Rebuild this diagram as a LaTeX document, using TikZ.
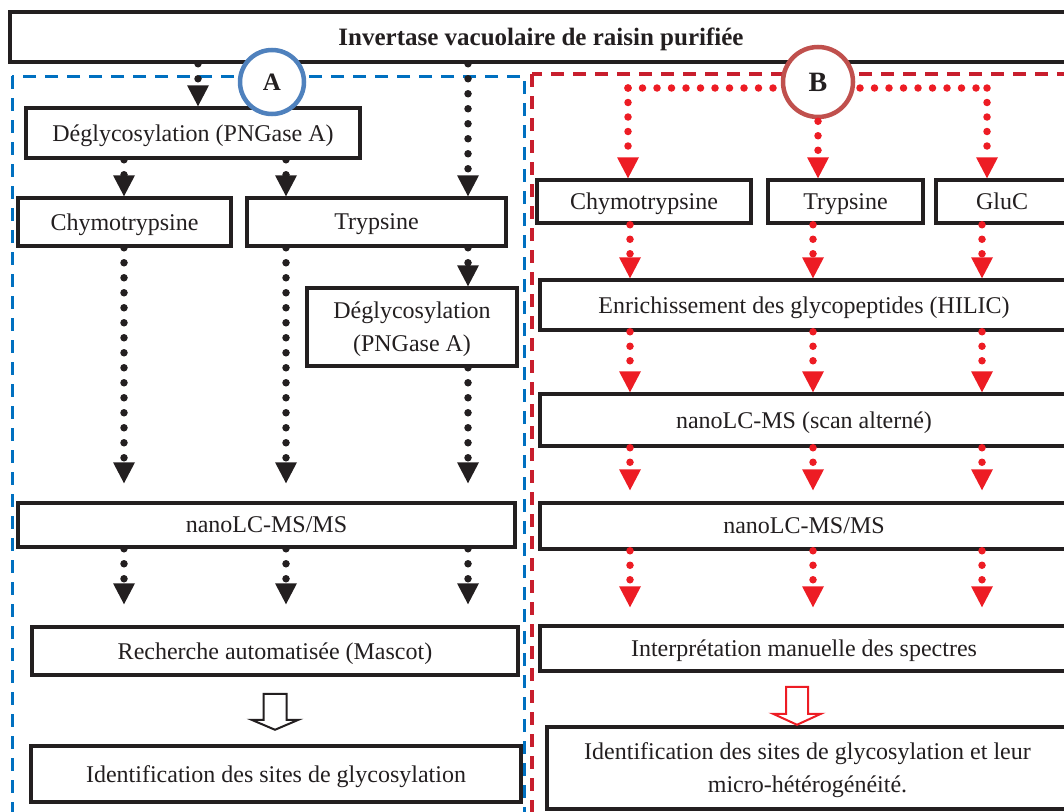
\documentclass[tikz,border=0pt]{standalone}
\usepackage{fontspec}
\setmainfont{Liberation Serif}
\usetikzlibrary{
	arrows.meta,
	calc
}

\definecolor{noir}{RGB}{35,31,32}
\definecolor{bleuA}{RGB}{0,112,192}
\definecolor{rougeB}{RGB}{200,30,45}
\definecolor{cercleA}{RGB}{79,129,189}
\definecolor{cercleB}{RGB}{192,80,77}
\definecolor{rougeF}{RGB}{237,28,36}

\begin{document}
\begin{tikzpicture}[
	x=1pt, y=-1pt,
	etape/.style={
		rectangle,
		draw=noir,
		line width=3.5pt,
		fill=white,
		text=noir,
		align=center,
		inner sep=0pt,
		text depth=0pt,
		font=\fontsize{24}{33}\selectfont
	},
	entete/.style={etape, font=\bfseries\fontsize{25}{30}\selectfont},
	cercle/.style={circle, fill=white, line width=4.5pt, text=noir, inner sep=0pt},
	cadre/.style={line width=3pt, dash pattern=on 13pt off 9pt},
	ligneA/.style={draw=noir, line width=7.5pt, line cap=round, dash pattern=on 0pt off 15pt},
	pointA/.style={ligneA, -{Triangle[width=22pt, length=21pt, line width=0pt]}},
	ligneB/.style={draw=rougeF, line width=7.5pt, line cap=round, dash pattern=on 0pt off 14.5pt},
	pointB/.style={ligneB, -{Triangle[width=22pt, length=21pt, line width=0pt]}},
	creux/.style={line width=2pt, fill=white, line join=miter}
]

\useasboundingbox (0,0) rectangle (1064,811);
\clip (0,0) rectangle (1064,811);

% Cadres des deux voies
\draw[cadre, draw=bleuA] (12,76) rectangle (524,830);
\draw[cadre, draw=rougeB, line width=3.5pt] (532,74) rectangle (1090,830);

\node[entete, minimum width=1062pt, minimum height=50pt] (haut) at (541,37) {Invertase vacuolaire de raisin purifiée};

% Voie A
\node[etape, minimum width=334pt, minimum height=50pt] (deglyA) at (193,133) {Déglycosylation (PNGase A)};
\node[etape, minimum width=213pt, minimum height=48pt] (chymoA) at (124.5,222) {Chymotrypsine};
\node[etape, minimum width=259pt, minimum height=48pt] (trypA) at (376.5,222) {Trypsine};
\node[etape, minimum width=210pt, minimum height=78pt] (deglyT) at (412,327) {Déglycosylation\\(PNGase A)};
\node[etape, minimum width=497pt, minimum height=44pt] (msA) at (266.5,525) {nanoLC-MS/MS};
\node[etape, minimum width=486pt, minimum height=48pt] (mascot) at (275,651) {Recherche automatisée (Mascot)};
\node[etape, minimum width=490pt, minimum height=56pt] (idA) at (276,774) {Identification des sites de glycosylation};

\coordinate (a0) at (198,0);
\coordinate (a1) at (124,0);
\coordinate (a2) at (286,0);
\coordinate (a3) at (468,0);

\draw[pointA] (haut.south -| a0) -- (deglyA.north -| a0);
\draw[pointA] (haut.south -| a3) -- (trypA.north -| a3);
\draw[pointA] (deglyA.south -| a1) -- (chymoA.north -| a1);
\draw[pointA] (deglyA.south -| a2) -- (trypA.north -| a2);
\draw[pointA] (trypA.south -| a3) -- (deglyT.north -| a3);
\draw[pointA, shorten >=18pt] (chymoA.south -| a1) -- (msA.north -| a1);
\draw[pointA, shorten >=18pt] (trypA.south -| a2) -- (msA.north -| a2);
\draw[pointA, shorten >=18pt] (deglyT.south -| a3) -- (msA.north -| a3);
\foreach \c in {a1,a2,a3}
	\draw[pointA, shorten >=21pt] (msA.south -| \c) -- (mascot.north -| \c);

\draw[creux, draw=noir] ($(mascot.south)+(-11.5,17)$) -- ++(0,26) -- ++(-12,0) -- ++(23.5,10) -- ++(23.5,-10) -- ++(-12,0) -- ++(0,-26) -- cycle;

% Voie B
\node[etape, minimum width=214pt, minimum height=43pt] (chymoB) at (644,201.5) {Chymotrypsine};
\node[etape, minimum width=155pt, minimum height=43pt] (trypB) at (845.5,201.5) {Trypsine};
\node[etape, minimum width=132pt, minimum height=43pt] (glucB) at (1002,201.5) {GluC};
\node[etape, minimum width=528pt, minimum height=50pt] (enrich) at (804,305) {Enrichissement des glycopeptides (HILIC)};
\node[etape, minimum width=528pt, minimum height=52pt] (scan) at (804,420) {nanoLC-MS (scan alterné)};
\node[etape, minimum width=528pt, minimum height=46pt] (msB) at (804,526) {nanoLC-MS/MS};
\node[etape, minimum width=528pt, minimum height=45pt] (interp) at (804,648.5) {Interprétation manuelle des spectres};
\node[etape, minimum width=521pt, minimum height=82pt] (idB) at (807.5,768) {Identification des sites de glycosylation et leur\\micro-hétérogénéité.};

\coordinate (bg) at (628,88);
\coordinate (bd) at (987,88);
\coordinate (b1) at (630,0);
\coordinate (b2) at (813,0);
\coordinate (b3) at (982,0);

\draw[ligneB] (bg) -- (bd);
\draw[pointB] (bg) -- (chymoB.north -| bg);
\draw[pointB] (bd) -- (glucB.north -| bd);

\draw[pointB] (chymoB.south -| b1) -- (enrich.north -| b1);
\draw[pointB] (trypB.south -| b2) -- (enrich.north -| b2);
\draw[pointB] (glucB.south -| b3) -- (enrich.north -| b3);
\foreach \c in {b1,b2,b3} {
	\draw[pointB] (enrich.south -| \c) -- (scan.north -| \c);
	\draw[pointB, shorten >=11pt] (scan.south -| \c) -- (msB.north -| \c);
	\draw[pointB, shorten >=17pt] (msB.south -| \c) -- (interp.north -| \c);
}

\draw[creux, draw=rougeF] ($(interp.south)+(-18,14)$) -- ++(0,27) -- ++(-13,0) -- ++(24,11) -- ++(24,-11) -- ++(-13,0) -- ++(0,-27) -- cycle;

% Cercles
\node[cercle, draw=cercleA, minimum size=64pt, font=\bfseries\fontsize{25}{25}\selectfont] (cercA) at (272,82) {A};
\node[cercle, draw=cercleB, minimum size=70pt, font=\bfseries\fontsize{28}{28}\selectfont] (cercB) at (818,82) {B};

\draw[pointB, shorten <=2pt] (cercB.south) -- (trypB.north -| cercB);
\end{tikzpicture}
\end{document}
